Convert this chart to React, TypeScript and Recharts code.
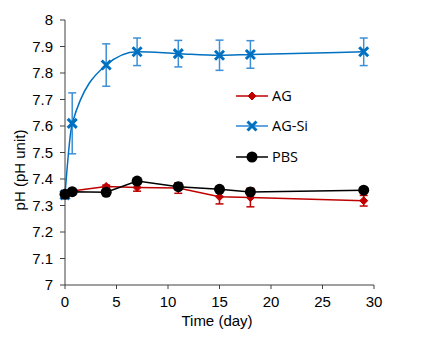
import React from "react";
import {
  ErrorBar,
  Legend,
  Line,
  LineChart,
  XAxis,
  YAxis,
} from "recharts";

const days = [0, 0.7, 4, 7, 11, 15, 18, 29];
const agValues = [7.34, 7.355, 7.372, 7.368, 7.366, 7.333, 7.33, 7.318];
const agErrors = [0, 0, 0.005, 0.014, 0.02, 0.027, 0.035, 0.02];
const agSiValues = [7.34, 7.61, 7.83, 7.88, 7.873, 7.867, 7.87, 7.88];
const agSiErrors = [0, 0.115, 0.08, 0.052, 0.05, 0.057, 0.052, 0.052];
const pbsValues = [7.342, 7.352, 7.35, 7.392, 7.371, 7.361, 7.351, 7.358];

const xTicks = [0, 5, 10, 15, 20, 25, 30];
const yTicks = [7, 7.1, 7.2, 7.3, 7.4, 7.5, 7.6, 7.7, 7.8, 7.9, 8];

const seriesNames = ["AG", "AG-Si", "PBS"];

const RED = "#c00000";
const BLUE = "#0070c0";
const BLUE_ERR = "#3d8fd6";
const FONT = "'Liberation Sans', Arial, sans-serif";

const data = days.map((day, i) => ({
  day,
  ag: agValues[i],
  agErr: agErrors[i],
  agSi: agSiValues[i],
  agSiErr: agSiErrors[i],
  pbs: pbsValues[i],
}));

function Diamond({ cx, cy, r = 4 }: { cx: number; cy: number; r?: number }) {
  return (
    <path
      d={`M${cx},${cy - r}L${cx + r},${cy}L${cx},${cy + r}L${cx - r},${cy}Z`}
      fill={RED}
      stroke={RED}
    />
  );
}

function Cross({ cx, cy, r = 4.5 }: { cx: number; cy: number; r?: number }) {
  return (
    <path
      d={`M${cx - r},${cy - r}L${cx + r},${cy + r}M${cx - r},${cy + r}L${cx + r},${cy - r}`}
      stroke={BLUE}
      strokeWidth={3}
      fill="none"
    />
  );
}

const renderDiamond = (p: any) => <Diamond key={`d${p.index}`} cx={p.cx} cy={p.cy} />;
const renderCross = (p: any) => <Cross key={`x${p.index}`} cx={p.cx} cy={p.cy} />;
const renderCircle = (p: any) => (
  <circle key={`c${p.index}`} cx={p.cx} cy={p.cy} r={5.5} fill="#000" />
);

function LegendBox() {
  const rows = [
    { color: RED, mark: <Diamond cx={16} cy={15} /> },
    { color: "#2e86d9", mark: <Cross cx={16} cy={45} /> },
    { color: "#000", mark: <circle cx={16} cy={76} r={5.5} fill="#000" /> },
  ];
  const ys = [15, 45, 76];
  return (
    <svg width={110} height={92}>
      {rows.map((row, i) => (
        <g key={seriesNames[i]}>
          <line x1={0} x2={32} y1={ys[i]} y2={ys[i]} stroke={row.color} strokeWidth={1.5} />
          {row.mark}
          <text
            x={36}
            y={ys[i]}
            dy="0.36em"
            fontSize={14.5}
            fontFamily="'Open Sans', sans-serif"
            fill="#000"
          >
            {seriesNames[i]}
          </text>
        </g>
      ))}
    </svg>
  );
}

export default function App() {
  return (
    <div style={{ position: "absolute", left: 0, top: 0, background: "#fff" }}>
      <LineChart
        width={423}
        height={342}
        data={data}
        margin={{ top: 20, right: 49, left: 0, bottom: 0 }}
      >
        <XAxis
          dataKey="day"
          type="number"
          domain={[0, 30]}
          ticks={xTicks}
          height={57}
          stroke="#404040"
          tickSize={4}
          tickMargin={7}
          tick={{ fill: "#000", fontSize: 15, fontFamily: FONT }}
          label={{
            content: () => (
              <text x={217} y={326} textAnchor="middle" fontSize={15} fontFamily={FONT} fill="#000">
                Time (day)
              </text>
            ),
          }}
        />
        <YAxis
          type="number"
          domain={[7, 8]}
          ticks={yTicks}
          width={65}
          stroke="#404040"
          tickSize={5}
          tickMargin={7}
          tick={{ fill: "#000", fontSize: 15, fontFamily: FONT }}
          label={{
            content: () => (
              <text
                x={20}
                y={170}
                transform="rotate(-90 20 170)"
                textAnchor="middle"
                dy="0.36em"
                fontSize={15}
                fontFamily={FONT}
                fill="#000"
              >
                pH (pH unit)
              </text>
            ),
          }}
        />
        <Legend
          layout="vertical"
          align="center"
          verticalAlign="middle"
          content={() => <LegendBox />}
          wrapperStyle={{ left: 236, top: 81, width: 110, height: 92 }}
        />
        <Line
          dataKey="ag"
          type="linear"
          stroke={RED}
          strokeWidth={1.5}
          dot={renderDiamond}
          activeDot={false}
          isAnimationActive={false}
        >
          <ErrorBar dataKey="agErr" width={4} stroke={RED} strokeWidth={1.5} />
        </Line>
        <Line
          dataKey="agSi"
          type="monotone"
          stroke={BLUE}
          strokeWidth={1.5}
          dot={renderCross}
          activeDot={false}
          isAnimationActive={false}
        >
          <ErrorBar dataKey="agSiErr" width={4} stroke={BLUE_ERR} strokeWidth={1.5} />
        </Line>
        <Line
          dataKey="pbs"
          type="linear"
          stroke="#000"
          strokeWidth={1.5}
          dot={renderCircle}
          activeDot={false}
          isAnimationActive={false}
        />
      </LineChart>
    </div>
  );
}
